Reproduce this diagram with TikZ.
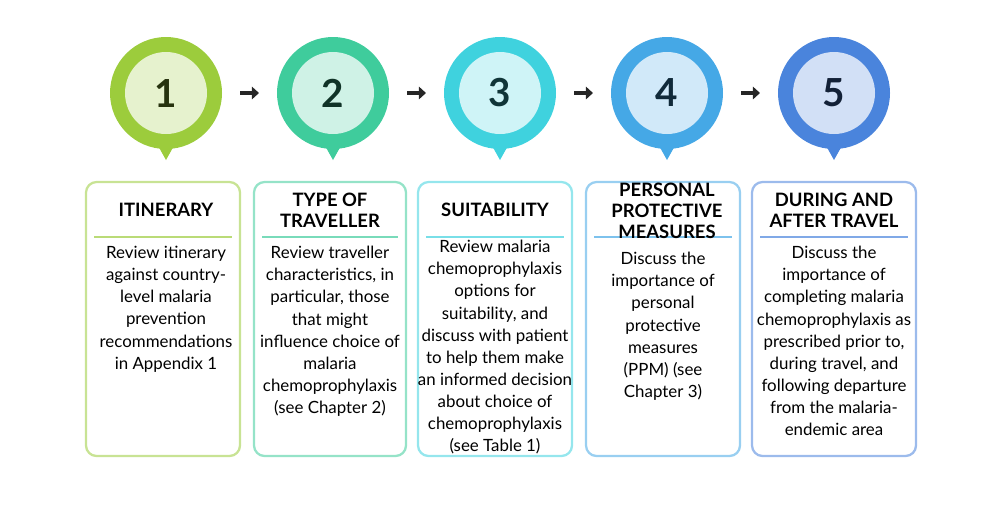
\documentclass[tikz,border=0pt]{standalone}
\usepackage{fontspec}
\setmainfont{Lato}
\usetikzlibrary{arrows.meta}
\definecolor{cA}{HTML}{9CCC3C}
\definecolor{cB}{HTML}{3FCC9C}
\definecolor{cC}{HTML}{3FD2DE}
\definecolor{cD}{HTML}{45A8E6}
\definecolor{cE}{HTML}{4A84DC}
\tikzset{
  ttl/.style={align=center, font=\bfseries\fontsize{10.5}{12}\selectfont},
  body/.style={align=center, font=\fontsize{9.6}{12.6}\selectfont, anchor=north},
  step arrow/.style={-{Triangle[length=4pt,width=7pt]}, line width=2.2pt, black!85}
}
\newcommand{\pin}[4]{% x, colour, number, name
  \fill[#2] (#1-14,-135) -- (#1,-160) -- (#1+14,-135) -- cycle;
  \fill[#2] (#1,-93) circle (56);
  \fill[#2!25!white] (#1,-93) circle (41);
  \node[font=\bfseries\fontsize{22}{22}\selectfont, text=#2!25!black] (#4) at (#1,-93) {#3};
}
\begin{document}
\begin{tikzpicture}[x=0.02cm, y=0.02cm]
\useasboundingbox (0,0) rectangle (1000,-512);
\pin{166}{cA}{1}{p1}
\pin{333}{cB}{2}{p2}
\pin{500}{cC}{3}{p3}
\pin{667}{cD}{4}{p4}
\pin{834}{cE}{5}{p5}

\draw[step arrow] (240,-93) -- (259,-93);
\draw[step arrow] (407,-93) -- (426,-93);
\draw[step arrow] (574,-93) -- (593,-93);
\draw[step arrow] (741,-93) -- (760,-93);

\foreach \xa/\xb/\c in {86/240/cA, 254/406/cB, 418/572/cC, 586/740/cD, 752/916/cE} {
  \draw[\c!55!white, line width=1.3pt, rounded corners=6pt] (\xa,-182) rectangle (\xb,-456);
  \draw[\c!70!white, line width=1pt] (\xa+8,-237) -- (\xb-8,-237);
}

\node[ttl] (t1) at (166,-210) {ITINERARY};
\node[ttl] (t2) at (330,-210) {TYPE OF\\TRAVELLER};
\node[ttl] (t3) at (495,-210) {SUITABILITY};
\node[ttl] (t4) at (667,-211) {PERSONAL\\PROTECTIVE\\MEASURES};
\node[ttl] (t5) at (834,-210) {DURING AND\\AFTER TRAVEL};

\node[body] (b1) at (166,-240) {Review itinerary\\against country-\\level malaria\\prevention\\recommendations\\in Appendix 1};
\node[body] (b2) at (330,-240) {Review traveller\\characteristics, in\\particular, those\\that might\\influence choice of\\malaria\\chemoprophylaxis\\(see Chapter 2)};
\node[body] (b3) at (495,-234) {Review malaria\\chemoprophylaxis\\options for\\suitability, and\\discuss with patient\\to help them make\\an informed decision\\about choice of\\chemoprophylaxis\\(see Table 1)};
\node[body] (b4) at (663,-246) {Discuss the\\importance of\\personal\\protective\\measures\\(PPM) (see\\Chapter 3)};
\node[body] (b5) at (834,-240) {Discuss the\\importance of\\completing malaria\\chemoprophylaxis as\\prescribed prior to,\\during travel, and\\following departure\\from the malaria-\\endemic area};
\end{tikzpicture}
\end{document}
